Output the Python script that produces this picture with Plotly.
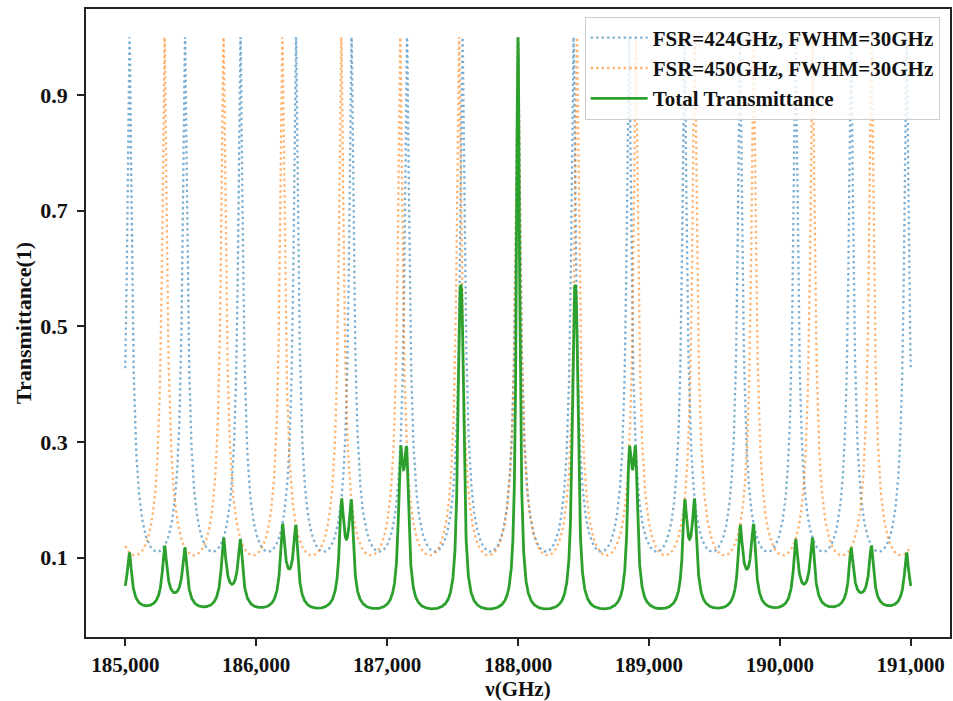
import numpy as np
import plotly.graph_objects as go

# Etalon parameters (GHz)
center_freq = 188000.0
fsr_values = [424.0, 450.0]
fwhm_values = [30.0, 30.0]
series_names = ["FSR=424GHz, FWHM=30GHz", "FSR=450GHz, FWHM=30GHz"]
series_colors = ["rgba(31,119,180,0.6)", "rgba(255,127,14,0.6)"]
total_name = "Total Transmittance"
total_color = "#2ca02c"

freq_start, freq_stop = 185000.0, 191000.0
x_ticks = [185000, 186000, 187000, 188000, 189000, 190000, 191000]
y_ticks = [0.1, 0.3, 0.5, 0.7, 0.9]

nu = np.linspace(freq_start, freq_stop, 12001)


def etalon_response(freq, fsr, fwhm):
    """Field transmission of a Fabry-Perot etalon (square root of the Airy function)."""
    finesse = fsr / fwhm
    coeff = (2.0 * finesse / np.pi) ** 2
    phase = np.pi * (freq - center_freq) / fsr
    return 1.0 / np.sqrt(1.0 + coeff * np.sin(phase) ** 2)


curves = [etalon_response(nu, fsr, fw) for fsr, fw in zip(fsr_values, fwhm_values)]
total = curves[0] * curves[1]

font_family = "Liberation Serif, Times New Roman, serif"

fig = go.Figure()
for name, col, y in zip(series_names, series_colors, curves):
    fig.add_trace(go.Scatter(
        x=nu, y=y, mode="lines", name=name,
        line=dict(color=col, width=2.3, dash="2.3px,3.2px"),
    ))
fig.add_trace(go.Scatter(
    x=nu, y=total, mode="lines", name=total_name,
    line=dict(color=total_color, width=2.8),
))

axis_common = dict(
    showline=True, linecolor="#222", linewidth=1.5, mirror=True,
    ticks="outside", ticklen=7, tickwidth=1.5, tickcolor="#222",
    showgrid=False, zeroline=False,
)

fig.update_layout(
    width=953, height=701,
    margin=dict(l=86, r=1, t=9, b=64),
    paper_bgcolor="white", plot_bgcolor="white",
    font=dict(family=font_family, color="#111"),
    xaxis=dict(
        range=[184700, 191300], tickvals=x_ticks, tickformat=",d",
        tickfont=dict(family=font_family, size=21, color="#111", weight="bold"),
        title=dict(text="ν(GHz)", font=dict(family=font_family, size=21, weight="bold"), standoff=5),
        ticklabelstandoff=1,
        **axis_common,
    ),
    yaxis=dict(
        range=[-0.037, 1.0487], tickvals=y_ticks, tickformat=".1f",
        tickfont=dict(family=font_family, size=22, color="#111", weight="bold"),
        title=dict(text="Transmittance(1)", font=dict(family=font_family, size=22, weight="bold"), standoff=3),
        ticklabelstandoff=5,
        **axis_common,
    ),
    legend=dict(
        x=0.988, y=0.988, xanchor="right", yanchor="top",
        bgcolor="rgba(255,255,255,0.8)", bordercolor="#cccccc", borderwidth=1,
        font=dict(family=font_family, size=21, color="#111", weight="bold"),
        tracegroupgap=0, itemwidth=57,
    ),
    showlegend=True,
)

fig.write_html("out.html")
